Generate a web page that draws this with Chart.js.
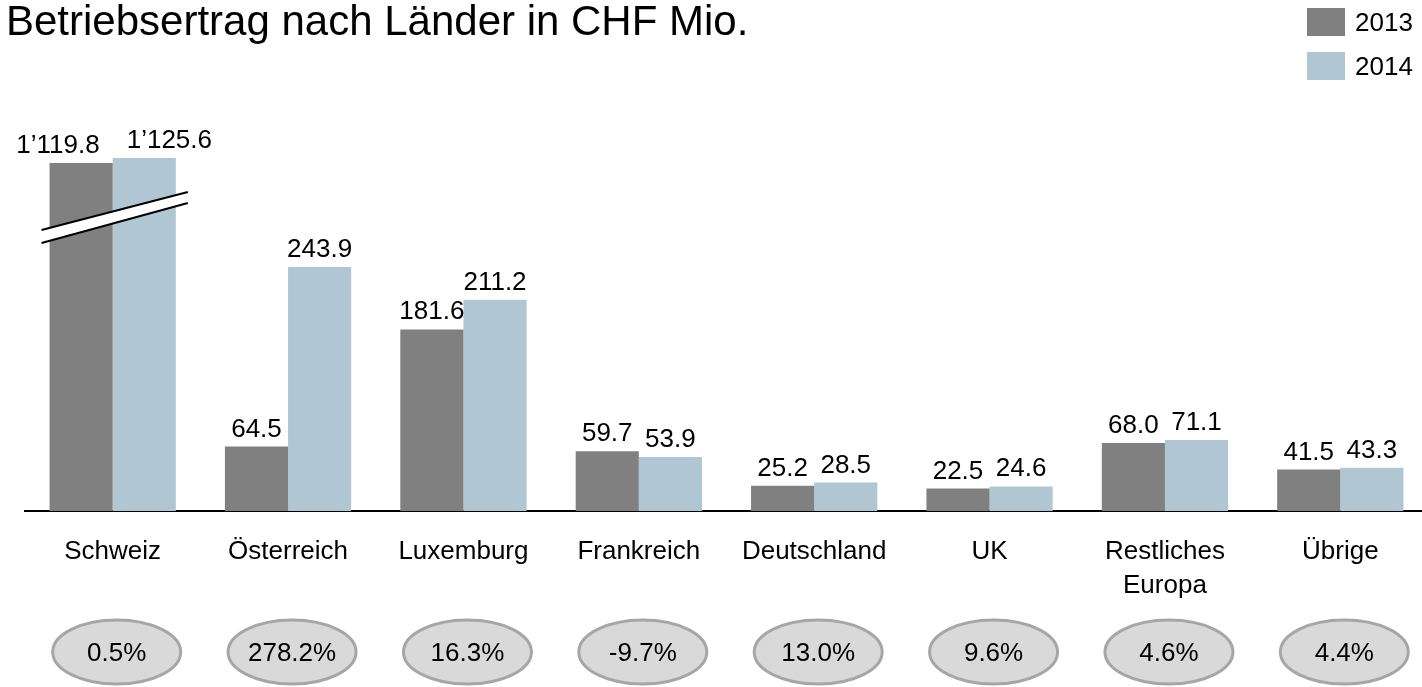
<!DOCTYPE html>
<html>
<head>
<meta charset="utf-8">
<script src="https://cdn.jsdelivr.net/npm/chart.js@4"></script>
<style>
    html, body { margin: 0; padding: 0; overflow: hidden; background: #fff; }
    #wrap { width: 1428px; height: 687px; position: relative; }
</style>
</head>
<body>
<div id="wrap"><canvas id="main-graph"></canvas></div>
<script>
// data
const countries = ["Schweiz", "Österreich", "Luxemburg", "Frankreich", "Deutschland", "UK", ["Restliches", "Europa"], "Übrige"]
const values2013 = [1119.8, 64.5, 181.6, 59.7, 25.2, 22.5, 68.0, 41.5]
const values2014 = [1125.6, 243.9, 211.2, 53.9, 28.5, 24.6, 71.1, 43.3]
const growth = ["0.5%", "278.2%", "16.3%", "-9.7%", "13.0%", "9.6%", "4.6%", "4.4%"]
const seriesNames = ["2013", "2014"]

// Schweiz sits on a broken axis: heights actually shown for 2013 / 2014
const schweizShown = [348, 353]

const COL_2013 = "#808080"
const COL_2014 = "#b0c6d3"
const FONT = "'Liberation Sans', Arial, sans-serif"

const shown2013 = values2013.map((v, i) => i === 0 ? schweizShown[0] : v)
const shown2014 = values2014.map((v, i) => i === 0 ? schweizShown[1] : v)

// 1119.8 -> 1’119.8
const fmt = v => {
    const parts = v.toFixed(1).split(".")
    return parts[0].replace(/\B(?=(\d{3})+(?!\d))/g, "\u2019") + "." + parts[1]
}

const decor = {
    id: "decor",
    afterDatasetsDraw(chart) {
        const ctx = chart.ctx
        const y = chart.scales.y
        const m0 = chart.getDatasetMeta(0).data[0]
        const m1 = chart.getDatasetMeta(1).data[0]

        // break mark across the Schweiz bars
        const x1 = m0.x - m0.width / 2 - 8
        const x2 = m1.x + m1.width / 2 + 12
        const upL = y.getPixelForValue(281), upR = y.getPixelForValue(319)
        const loL = y.getPixelForValue(268), loR = y.getPixelForValue(308)
        ctx.save()
        ctx.fillStyle = "#fff"
        ctx.beginPath()
        ctx.moveTo(x1, upL); ctx.lineTo(x2, upR); ctx.lineTo(x2, loR); ctx.lineTo(x1, loL)
        ctx.closePath()
        ctx.fill()
        ctx.strokeStyle = "#000"
        ctx.lineWidth = 2
        ctx.beginPath()
        ctx.moveTo(x1, upL); ctx.lineTo(x2, upR)
        ctx.moveTo(x1, loL); ctx.lineTo(x2, loR)
        ctx.stroke()

        // value labels
        ctx.font = "26px " + FONT
        ctx.fillStyle = "#000"
        ctx.textBaseline = "alphabetic"
        const sets = [values2013, values2014]
        sets.forEach((vals, d) => {
            chart.getDatasetMeta(d).data.forEach((bar, i) => {
                let tx = bar.x
                ctx.textAlign = "center"
                if (i === 0) {
                    // spread the two big labels apart
                    if (d === 0) { ctx.textAlign = "right"; tx = bar.x + bar.width / 2 - 13 }
                    else { ctx.textAlign = "left"; tx = bar.x - bar.width / 2 + 14 }
                }
                ctx.fillText(fmt(vals[i]), tx, bar.y - 10)
            })
        })
        ctx.restore()
    },
    afterDraw(chart) {
        const ctx = chart.ctx
        const x = chart.scales.x
        ctx.save()

        // growth ellipses
        growth.forEach((g, i) => {
            const cx = x.getPixelForValue(i) + 4
            ctx.beginPath()
            ctx.ellipse(cx, 652, 64, 32, 0, 0, Math.PI * 2)
            ctx.fillStyle = "#d9d9d9"
            ctx.fill()
            ctx.lineWidth = 3
            ctx.strokeStyle = "#a6a6a6"
            ctx.stroke()
            ctx.fillStyle = "#000"
            ctx.font = "26px " + FONT
            ctx.textAlign = "center"
            ctx.textBaseline = "middle"
            ctx.fillText(g, cx, 654)
        })

        // title
        ctx.font = "42px " + FONT
        ctx.textAlign = "left"
        ctx.textBaseline = "alphabetic"
        ctx.fillStyle = "#000"
        ctx.fillText("Betriebsertrag nach Länder in CHF Mio.", 6, 35)

        // legend
        const cols = [COL_2013, COL_2014]
        seriesNames.forEach((name, i) => {
            const top = 8 + i * 44
            ctx.fillStyle = cols[i]
            ctx.fillRect(1307, top, 38, 28)
            ctx.fillStyle = "#000"
            ctx.font = "26px " + FONT
            ctx.textBaseline = "middle"
            ctx.fillText(name, 1355, top + 16)
        })
        ctx.restore()
    }
}

const MainGraphCTX = document.getElementById("main-graph").getContext("2d")

const MainGraph = new Chart(MainGraphCTX, {
    type: "bar",
    data: {
        labels: countries,
        datasets: [
            {
                label: seriesNames[0],
                data: shown2013,
                backgroundColor: COL_2013,
                categoryPercentage: 0.72,
                barPercentage: 1.0
            },
            {
                label: seriesNames[1],
                data: shown2014,
                backgroundColor: COL_2014,
                categoryPercentage: 0.72,
                barPercentage: 1.0
            }
        ]
    },
    options: {
        responsive: true,
        maintainAspectRatio: false,
        animation: false,
        devicePixelRatio: 1,
        layout: { padding: { top: 111, left: 25, right: 0, bottom: 0 } },
        plugins: {
            legend: { display: false },
            title: { display: false },
            tooltip: { enabled: false }
        },
        scales: {
            x: {
                grid: { display: false, drawTicks: false },
                border: { display: true, color: "#000", width: 2 },
                ticks: {
                    color: "#000",
                    font: { family: FONT, size: 26, lineHeight: 1.3 },
                    padding: 24,
                    maxRotation: 0,
                    autoSkip: false
                },
                afterFit: scale => { scale.height = 176 }
            },
            y: {
                display: false,
                min: 0,
                max: 400
            }
        }
    },
    plugins: [decor]
})
</script>
</body>
</html>
